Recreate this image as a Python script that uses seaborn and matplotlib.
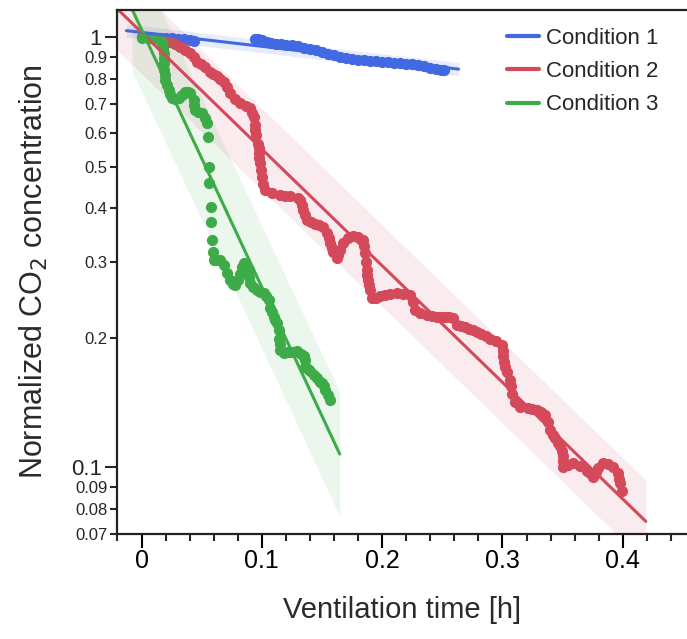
import numpy as np
import pandas as pd
import matplotlib
matplotlib.use("Agg")
import matplotlib.pyplot as plt
from matplotlib.lines import Line2D
from matplotlib.ticker import FixedLocator, FixedFormatter, MultipleLocator
import seaborn as sns

# Condition 1 (blue)
c1_time = [0.000, 0.005, 0.010, 0.015, 0.020, 0.025, 0.030, 0.035, 0.040, 0.044,
           0.094, 0.097, 0.100, 0.104, 0.108, 0.112, 0.116, 0.120, 0.125, 0.130,
           0.135, 0.140, 0.145, 0.150, 0.155, 0.160, 0.165, 0.170, 0.175, 0.180,
           0.185, 0.190, 0.195, 0.200, 0.205, 0.210, 0.215, 0.220, 0.225, 0.230,
           0.235, 0.240, 0.245, 0.249, 0.251]
c1_conc = [1.000, 0.999, 0.998, 0.997, 0.996, 0.994, 0.992, 0.990, 0.987, 0.983,
           0.992, 0.990, 0.985, 0.975, 0.968, 0.965, 0.963, 0.961, 0.958, 0.953,
           0.947, 0.940, 0.933, 0.925, 0.917, 0.910, 0.902, 0.896, 0.891, 0.887,
           0.885, 0.883, 0.881, 0.878, 0.875, 0.873, 0.871, 0.869, 0.866, 0.861,
           0.856, 0.849, 0.843, 0.839, 0.839]

# Condition 2 (red)
c2_time = [0.0000, 0.0035, 0.0071, 0.0110, 0.0154, 0.0195, 0.0237, 0.0280, 0.0320, 0.0360,
           0.0403, 0.0432, 0.0461, 0.0495, 0.0528, 0.0569, 0.0598, 0.0628, 0.0655, 0.0683,
           0.0710, 0.0738, 0.0777, 0.0821, 0.0869, 0.0904, 0.0920, 0.0933, 0.0939, 0.0945,
           0.0952, 0.0971, 0.0974, 0.0977, 0.0980, 0.0985, 0.0993, 0.0999, 0.1010, 0.1027,
           0.1085, 0.1151, 0.1193, 0.1234, 0.1301, 0.1318, 0.1331, 0.1345, 0.1359, 0.1373,
           0.1408, 0.1442, 0.1477, 0.1511, 0.1542, 0.1555, 0.1567, 0.1580, 0.1592, 0.1623,
           0.1637, 0.1650, 0.1677, 0.1717, 0.1761, 0.1800, 0.1844, 0.1851, 0.1858, 0.1866,
           0.1872, 0.1878, 0.1885, 0.1892, 0.1899, 0.1914, 0.1948, 0.1983, 0.2025, 0.2066,
           0.2121, 0.2174, 0.2232, 0.2257, 0.2274, 0.2315, 0.2371, 0.2412, 0.2454, 0.2488,
           0.2523, 0.2557, 0.2592, 0.2620, 0.2655, 0.2689, 0.2723, 0.2758, 0.2790, 0.2822,
           0.2860, 0.2897, 0.2947, 0.2994, 0.3001, 0.3008, 0.3015, 0.3022, 0.3038, 0.3063,
           0.3070, 0.3077, 0.3105, 0.3146, 0.3213, 0.3249, 0.3285, 0.3320, 0.3354, 0.3379,
           0.3396, 0.3417, 0.3437, 0.3458, 0.3479, 0.3493, 0.3506, 0.3506, 0.3506, 0.3545,
           0.3589, 0.3645, 0.3701, 0.3729, 0.3756, 0.3775, 0.3795, 0.3839, 0.3878, 0.3922,
           0.3963, 0.3970, 0.3978, 0.3992]
c2_conc = [1.000, 1.000, 0.999, 0.997, 0.994, 0.985, 0.975, 0.963, 0.951, 0.935,
           0.919, 0.898, 0.878, 0.865, 0.853, 0.832, 0.822, 0.813, 0.800, 0.788,
           0.765, 0.741, 0.718, 0.702, 0.692, 0.684, 0.668, 0.653, 0.625, 0.608,
           0.592, 0.566, 0.552, 0.538, 0.523, 0.509, 0.491, 0.474, 0.456, 0.441,
           0.434, 0.430, 0.428, 0.427, 0.423, 0.418, 0.407, 0.396, 0.385, 0.375,
           0.372, 0.368, 0.365, 0.362, 0.350, 0.341, 0.332, 0.324, 0.317, 0.307,
           0.312, 0.320, 0.332, 0.341, 0.344, 0.343, 0.338, 0.326, 0.314, 0.300,
           0.287, 0.280, 0.272, 0.265, 0.258, 0.247, 0.248, 0.250, 0.251, 0.253,
           0.254, 0.253, 0.252, 0.242, 0.232, 0.228, 0.226, 0.225, 0.224, 0.224,
           0.223, 0.223, 0.222, 0.214, 0.213, 0.212, 0.210, 0.208, 0.206, 0.204,
           0.202, 0.199, 0.196, 0.192, 0.186, 0.181, 0.176, 0.171, 0.166, 0.159,
           0.154, 0.148, 0.142, 0.138, 0.137, 0.1365, 0.136, 0.134, 0.132, 0.127,
           0.122, 0.119, 0.117, 0.114, 0.112, 0.109, 0.106, 0.103, 0.100, 0.101,
           0.102, 0.1005, 0.098, 0.0966, 0.095, 0.0972, 0.0995, 0.102, 0.1015, 0.100,
           0.097, 0.094, 0.092, 0.088]

# Condition 3 (green)
c3_time = [0.0000, 0.0037, 0.0073, 0.0104, 0.0129, 0.0156, 0.0170, 0.0179, 0.0185, 0.0185,
           0.0185, 0.0185, 0.0191, 0.0198, 0.0212, 0.0226, 0.0237, 0.0254, 0.0278, 0.0309,
           0.0337, 0.0364, 0.0386, 0.0406, 0.0434, 0.0440, 0.0447, 0.0470, 0.0503, 0.0530,
           0.0544, 0.0555, 0.0561, 0.0564, 0.0575, 0.0580, 0.0586, 0.0594, 0.0600, 0.0628,
           0.0655, 0.0683, 0.0711, 0.0738, 0.0761, 0.0780, 0.0802, 0.0821, 0.0835, 0.0849,
           0.0869, 0.0891, 0.0897, 0.0904, 0.0927, 0.0960, 0.0985, 0.1016, 0.1035, 0.1057,
           0.1071, 0.1085, 0.1099, 0.1112, 0.1126, 0.1140, 0.1145, 0.1151, 0.1154, 0.1182,
           0.1208, 0.1234, 0.1263, 0.1293, 0.1322, 0.1348, 0.1355, 0.1362, 0.1384, 0.1403,
           0.1430, 0.1459, 0.1484, 0.1500, 0.1517, 0.1528, 0.1550, 0.1569]
c3_conc = [0.995, 1.003, 1.003, 0.999, 0.995, 0.986, 0.968, 0.944, 0.918, 0.895,
           0.870, 0.839, 0.817, 0.795, 0.774, 0.754, 0.738, 0.721, 0.719, 0.721,
           0.734, 0.747, 0.745, 0.741, 0.715, 0.695, 0.677, 0.670, 0.665, 0.648,
           0.631, 0.585, 0.500, 0.459, 0.402, 0.372, 0.338, 0.317, 0.303, 0.303,
           0.303, 0.295, 0.283, 0.272, 0.267, 0.265, 0.272, 0.282, 0.292, 0.298,
           0.295, 0.287, 0.277, 0.268, 0.262, 0.258, 0.255, 0.254, 0.250, 0.245,
           0.234, 0.229, 0.224, 0.220, 0.216, 0.208, 0.199, 0.193, 0.187, 0.184,
           0.185, 0.185, 0.185, 0.186, 0.183, 0.181, 0.177, 0.171, 0.169, 0.167,
           0.164, 0.161, 0.158, 0.157, 0.154, 0.151, 0.147, 0.143]

conditions = ["Condition 1", "Condition 2", "Condition 3"]
colors = ["#4169e1", "#d44a5b", "#3dab48"]
band_alpha = [0.12, 0.1, 0.1]

# y ticks (log axis)
major_yticks = [0.1, 1]
major_ylabels = ["0.1", "1"]
minor_yticks = [0.07, 0.08, 0.09, 0.2, 0.3, 0.4, 0.5, 0.6, 0.7, 0.8, 0.9]
minor_ylabels = ["0.07", "0.08", "0.09", "0.2", "0.3", "0.4", "0.5", "0.6", "0.7", "0.8", "0.9"]
xticks = [0, 0.1, 0.2, 0.3, 0.4]
xticklabels = ["0", "0.1", "0.2", "0.3", "0.4"]

df = pd.concat([
    pd.DataFrame({"time": c1_time, "conc": c1_conc, "cond": conditions[0]}),
    pd.DataFrame({"time": c2_time, "conc": c2_conc, "cond": conditions[1]}),
    pd.DataFrame({"time": c3_time, "conc": c3_conc, "cond": conditions[2]}),
])

sns.set_theme(style="ticks")
plt.rcParams["font.family"] = ["Liberation Sans", "DejaVu Sans"]

fig = plt.figure(figsize=(6.87, 6.39), dpi=100)
ax = fig.add_axes([0.1703, 0.165, 0.8297, 0.8194])
ax.set_yscale("log")

handles = []
for cond, col, a in zip(conditions, colors, band_alpha):
    d = df[df["cond"] == cond]
    t = d["time"].values
    ly = np.log10(d["conc"].values)
    # exponential fit (linear in log space) with prediction band
    slope, icpt = np.polyfit(t, ly, 1)
    resid = ly - (slope * t + icpt)
    n = len(t)
    s = np.sqrt(np.sum(resid ** 2) / (n - 2))
    rng = t.max() - t.min()
    tf = np.linspace(t.min() - 0.05 * rng, t.max() + 0.05 * rng, 100)
    fit = slope * tf + icpt
    half = 1.96 * s * np.sqrt(1 + 1 / n + (tf - t.mean()) ** 2 / np.sum((t - t.mean()) ** 2))
    ax.fill_between(tf, 10 ** (fit - half), 10 ** (fit + half), color=col, alpha=a, lw=0)
    sns.scatterplot(x=t, y=d["conc"].values, color=col, s=65, linewidth=0, ax=ax, legend=False)
    sns.lineplot(x=tf, y=10 ** fit, color=col, lw=2.2, ax=ax)
    handles.append(Line2D([], [], color=col, lw=3))

ax.set_xlim(-0.0204, 0.4534)
ax.set_ylim(0.07, 1.158)

ax.xaxis.set_major_locator(FixedLocator(xticks))
ax.xaxis.set_major_formatter(FixedFormatter(xticklabels))
ax.xaxis.set_minor_locator(MultipleLocator(0.02))
ax.yaxis.set_major_locator(FixedLocator(major_yticks))
ax.yaxis.set_major_formatter(FixedFormatter(major_ylabels))
ax.yaxis.set_minor_locator(FixedLocator(minor_yticks))
ax.yaxis.set_minor_formatter(FixedFormatter(minor_ylabels))

ax.tick_params(axis="x", which="major", labelsize=18, length=10, width=1.5, pad=1, colors="black")
ax.tick_params(axis="x", which="minor", length=5, width=1.5)
ax.tick_params(axis="y", which="major", labelsize=16, length=9, width=1.5, pad=2)
ax.tick_params(axis="y", which="minor", labelsize=12, length=5, width=1.5, pad=2)

for side in ["left", "bottom", "top"]:
    ax.spines[side].set_linewidth(1.6)
    ax.spines[side].set_color("#222222")
ax.spines["right"].set_visible(False)

ax.set_xlabel("Ventilation time [h]", fontsize=21, color="#2a2a2a")
ax.xaxis.set_label_coords(0.5, -0.12)
ax.set_ylabel("Normalized CO$_2$ concentration", fontsize=22, color="#2a2a2a")
ax.yaxis.set_label_coords(-0.118, 0.5)

ax.legend(handles, conditions, loc="upper left", bbox_to_anchor=(0.665, 0.987), frameon=False,
          fontsize=16, handlelength=1.44, handletextpad=0.3, labelspacing=0.55, borderpad=0)

fig.savefig("out.png", dpi=100)
